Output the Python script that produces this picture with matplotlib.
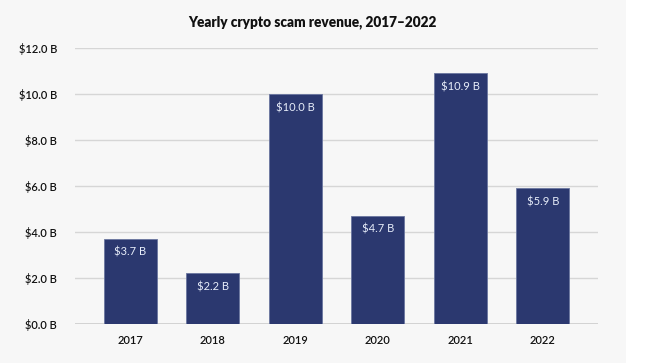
import matplotlib.pyplot as plt

plt.rcParams["font.family"] = ["Lato", "DejaVu Sans"]

years = ["2017", "2018", "2019", "2020", "2021", "2022"]
revenue = [3.7, 2.2, 10.0, 4.7, 10.9, 5.9]
y_ticks = [0, 2, 4, 6, 8, 10, 12]

BAR = "#2b386f"
BG = "#f7f7f7"

fig = plt.figure(figsize=(6.51, 3.63), dpi=100)
fig.patch.set_facecolor("white")
# grey panel that stops short of the right edge
fig.add_artist(plt.Rectangle((0, 0), 626 / 651, 1, transform=fig.transFigure,
                             facecolor=BG, edgecolor="none", zorder=0))

ax = fig.add_axes([75 / 651, 1 - 324 / 363, (598 - 75) / 651, (324 - 48) / 363])
ax.set_facecolor("none")

x = range(len(years))
ax.bar(x, revenue, width=0.64, color=BAR, edgecolor="#6a76a0",
       linewidth=0.6, zorder=3)

for xi, v in zip(x, revenue):
    ax.text(xi, v - 0.35, f"${v:.1f} B", ha="center", va="top",
            color="#e8eefa", fontsize=8, zorder=4)

ax.set_xlim(-0.67, 5.67)
ax.set_ylim(0, 12)
ax.set_yticks(y_ticks)
ax.set_yticklabels([f"${t:.1f} B" for t in y_ticks])
ax.set_xticks(list(x))
ax.set_xticklabels(years)

ax.grid(axis="y", color="#d6d6d6", linewidth=1.0, zorder=0)
ax.axhline(0, color="#d0d0d0", linewidth=2.0, zorder=2)
for s in ax.spines.values():
    s.set_visible(False)
ax.tick_params(length=0, labelsize=8, colors="#111111")
ax.tick_params(axis="y", pad=13)
ax.tick_params(axis="x", pad=8)
for lab in ax.get_xticklabels() + ax.get_yticklabels():
    lab.set_fontweight("semibold")

fig.text(312.5 / 651, 1 - 22 / 363, "Yearly crypto scam revenue, 2017\u20132022",
         ha="center", va="center", fontsize=9.8, fontweight="heavy", color="#111111")

fig.savefig("out.png", dpi=100)
